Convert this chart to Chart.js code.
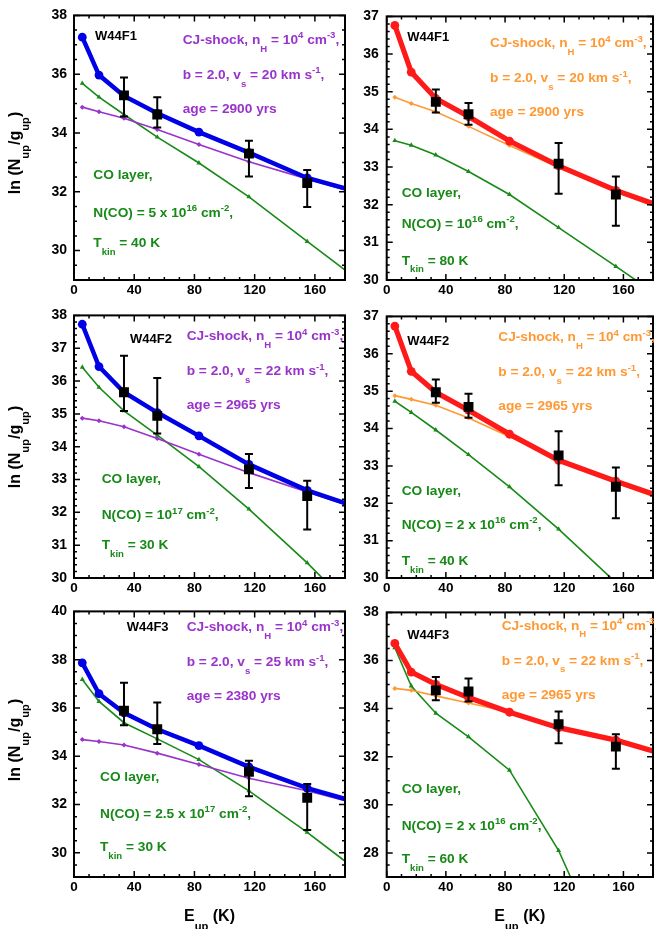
<!DOCTYPE html>
<html>
<head>
<meta charset="utf-8">
<title>W44 CO excitation diagrams</title>
<script src="https://cdn.jsdelivr.net/npm/chart.js@4.4.0/dist/chart.umd.min.js"></script>
<style>
  html, body { margin: 0; padding: 0; background: #fff; overflow: hidden; width: 656px; height: 929px; }
  canvas { position: absolute; }
</style>
</head>
<body>
<canvas id="p1"></canvas>
<canvas id="p2"></canvas>
<canvas id="p3"></canvas>
<canvas id="p4"></canvas>
<canvas id="p5"></canvas>
<canvas id="p6"></canvas>
<script>
// upper level energies of the CO lines (K)
const E = [5.5, 16.6, 33.2, 55.3, 83.0, 116.2, 154.9, 199.1];
const Eobs = [33.2, 55.3, 116.2, 154.9];
const xTicks = [0, 40, 80, 120, 160];

// W44F1, left: shock + layer (blue), CJ-shock (purple), CO layer (green)
const f1aTotal = [37.26, 35.97, 35.26, 34.67, 34.03, 33.33, 32.47, 31.85];
const f1aShock = [34.88, 34.72, 34.50, 34.12, 33.61, 33.02, 32.44, 31.80];
const f1aLayer = [35.69, 35.22, 34.63, 33.86, 32.98, 31.83, 30.31, 28.60];
const f1aObs   = [35.28, 34.63, 33.30, 32.30];
const f1aObsHi = [35.89, 35.22, 33.74, 32.74];
const f1aObsLo = [34.56, 34.19, 32.52, 31.48];
const f1aTicks = [30, 32, 34, 36, 38];

// W44F1, right
const f1bTotal = [36.76, 35.52, 34.82, 34.34, 33.69, 33.03, 32.38, 31.76];
const f1bShock = [34.85, 34.69, 34.47, 34.08, 33.57, 32.99, 32.34, 31.70];
const f1bLayer = [33.70, 33.58, 33.32, 32.88, 32.27, 31.39, 30.36, 29.17];
const f1bObs   = [34.73, 34.40, 33.09, 32.27];
const f1bObsHi = [35.06, 34.70, 33.64, 32.75];
const f1bObsLo = [34.45, 34.12, 32.29, 31.44];
const f1bTicks = [30, 31, 32, 33, 34, 35, 36, 37];

// W44F2, left
const f2aTotal = [37.73, 36.44, 35.66, 35.04, 34.33, 33.46, 32.67, 31.99];
const f2aShock = [34.87, 34.79, 34.61, 34.25, 33.77, 33.21, 32.62, 31.95];
const f2aLayer = [36.42, 35.81, 35.09, 34.35, 33.39, 32.10, 30.46, 28.43];
const f2aObs   = [35.66, 34.94, 33.31, 32.50];
const f2aObsHi = [36.77, 36.09, 33.78, 32.96];
const f2aObsLo = [35.09, 34.40, 32.74, 31.48];
const f2aTicks = [30, 31, 32, 33, 34, 35, 36, 37, 38];

// W44F2, right
const f2bTotal = [36.74, 35.53, 34.97, 34.49, 33.85, 33.15, 32.59, 31.99];
const f2bShock = [34.88, 34.78, 34.62, 34.28, 33.78, 33.18, 32.55, 31.90];
const f2bLayer = [34.73, 34.43, 33.96, 33.30, 32.44, 31.31, 29.88, 28.20];
const f2bObs   = [34.97, 34.58, 33.28, 32.44];
const f2bObsHi = [35.31, 34.93, 33.93, 32.96];
const f2bObsLo = [34.69, 34.29, 32.48, 31.60];
const f2bTicks = [30, 31, 32, 33, 34, 35, 36, 37];

// W44F3, left
const f3aTotal = [37.87, 36.59, 35.80, 35.12, 34.44, 33.56, 32.68, 31.90];
const f3aShock = [34.69, 34.61, 34.47, 34.13, 33.66, 33.09, 32.57, 31.85];
const f3aLayer = [37.18, 36.27, 35.39, 34.72, 33.86, 32.57, 30.85, 28.75];
const f3aObs   = [35.89, 35.12, 33.36, 32.28];
const f3aObsHi = [37.05, 36.23, 33.81, 32.85];
const f3aObsLo = [35.28, 34.51, 32.34, 30.95];
const f3aTicks = [30, 32, 34, 36, 38, 40];

// W44F3, right
const f3bTotal = [36.71, 35.52, 35.01, 34.46, 33.85, 33.21, 32.69, 31.90];
const f3bShock = [34.84, 34.76, 34.53, 34.23, 33.85, 33.18, 32.64, 31.85];
const f3bLayer = [36.53, 34.94, 33.81, 32.83, 31.44, 28.10, 22.80, 17.00];
const f3bObs   = [34.76, 34.71, 33.35, 32.42];
const f3bObsHi = [35.31, 35.25, 33.88, 32.93];
const f3bObsLo = [34.35, 34.30, 32.56, 31.50];
const f3bTicks = [28, 30, 32, 34, 36, 38];

const FONT = '"Liberation Sans", Arial, Helvetica, sans-serif';
const BLACK = '#000000', BLUE = '#0000e6', RED = '#ff1a1a';
const PURPLE = '#9933cc', ORANGE = '#ff9933', GREEN = '#178a17';

Chart.defaults.font.family = FONT;
Chart.defaults.font.weight = 'bold';
Chart.defaults.font.size = 13;
Chart.defaults.color = '#000';

const cols = {
  L: { left: 0, width: 352, yW: 74, padR: 6.3 },
  R: { left: 352, width: 308, yW: 34.7, padR: 0.6 }
};
const rows = {
  1: { top: 0, height: 300, padT: 12, xH: 20, yTitle: 153 },
  2: { top: 300, height: 300, padT: 8, xH: 22, yTitle: 447 },
  3: { top: 596, height: 333, padT: 11, xH: 52, yTitle: 740 }
};

function pts(xs, ys) { return xs.map((v, i) => ({ x: v, y: ys[i] })); }

// text with sub/superscripts; parts are strings or [text, 'sub'|'sup']
function rich(ctx, x, y, parts, size, measureOnly) {
  let cx = x;
  parts.forEach(p => {
    const txt = Array.isArray(p) ? p[0] : p;
    const kind = Array.isArray(p) ? p[1] : '';
    let fs = size, dy = 0;
    if (kind === 'sub') { fs = size * 0.7; dy = size * 0.62; }
    if (kind === 'sup') { fs = size * 0.7; dy = -size * 0.35; }
    ctx.font = 'bold ' + fs + 'px ' + FONT;
    if (!measureOnly) ctx.fillText(txt, cx, y + dy);
    cx += ctx.measureText(txt).width;
  });
  return cx - x;
}

function framePlugin(cfg) {
  return {
    id: 'frame' + cfg.id,
    afterDatasetsDraw(chart) {
      const { ctx, scales: { x, y } } = chart;
      ctx.save();
      ctx.strokeStyle = '#000';
      ctx.lineWidth = 2;
      Eobs.forEach((ex, i) => {
        const px = x.getPixelForValue(ex);
        const yh = y.getPixelForValue(cfg.hi[i]), yl = y.getPixelForValue(cfg.lo[i]);
        ctx.beginPath();
        ctx.moveTo(px, yh); ctx.lineTo(px, yl);
        ctx.moveTo(px - 4, yh); ctx.lineTo(px + 4, yh);
        ctx.moveTo(px - 4, yl); ctx.lineTo(px + 4, yl);
        ctx.stroke();
      });
      ctx.restore();
    },
    afterDraw(chart) {
      const { ctx, chartArea: a, scales: { x, y } } = chart;
      ctx.save();
      // frame
      ctx.strokeStyle = '#000';
      ctx.lineWidth = 2;
      ctx.strokeRect(a.left, a.top, a.right - a.left, a.bottom - a.top);
      // inward ticks on all four sides
      ctx.lineWidth = 1.5;
      ctx.beginPath();
      for (let v = 0; v <= 180.001; v += 10) {
        const len = xTicks.includes(v) ? 6 : 3;
        const px = x.getPixelForValue(v);
        ctx.moveTo(px, a.bottom); ctx.lineTo(px, a.bottom - len);
        ctx.moveTo(px, a.top); ctx.lineTo(px, a.top + len);
      }
      const n = Math.round((cfg.yMax - cfg.yMin) / cfg.minor);
      for (let k = 0; k <= n; k++) {
        const v = cfg.yMin + k * cfg.minor;
        const len = cfg.yTicks.some(t => Math.abs(t - v) < 1e-6) ? 6 : 3;
        const py = y.getPixelForValue(v);
        ctx.moveTo(a.left, py); ctx.lineTo(a.left + len, py);
        ctx.moveTo(a.right, py); ctx.lineTo(a.right - len, py);
      }
      ctx.stroke();
      // annotations
      ctx.textBaseline = 'middle';
      ctx.textAlign = 'left';
      cfg.notes.forEach(nt => {
        ctx.fillStyle = nt.color;
        rich(ctx, a.left + nt.dx, a.top + nt.dy, nt.parts, nt.color === BLACK ? 13 : 13.7);
      });
      ctx.fillStyle = '#000';
      if (cfg.col === 'L') {
        const parts = ['ln (N', ['up', 'sub'], '/g', ['up', 'sub'], ')'];
        const w = rich(ctx, 0, 0, parts, 16, true);
        ctx.save();
        ctx.translate(16, rows[cfg.row].yTitle - rows[cfg.row].top);
        ctx.rotate(-Math.PI / 2);
        rich(ctx, -w / 2, 0, parts, 16);
        ctx.restore();
      }
      if (cfg.row === 3) {
        const parts = ['E', ['up', 'sub'], ' (K)'];
        const w = rich(ctx, 0, 0, parts, 16, true);
        rich(ctx, (a.left + a.right) / 2 - w / 2, a.bottom + 40, parts, 16);
      }
      ctx.restore();
    }
  };
}

function makePanel(cfg) {
  const c = cols[cfg.col], r = rows[cfg.row];
  const el = document.getElementById(cfg.id);
  el.width = c.width; el.height = r.height;
  el.style.left = c.left + 'px'; el.style.top = r.top + 'px';
  const thick = cfg.col === 'L' ? BLUE : RED;
  const thin = cfg.col === 'L' ? PURPLE : ORANGE;
  new Chart(el, {
    type: 'line',
    data: {
      datasets: [
        { data: pts(Eobs, cfg.obs), showLine: false, pointStyle: 'rect', pointRadius: 7,
          pointBackgroundColor: BLACK, pointBorderWidth: 0 },
        { data: pts(E, cfg.total), borderColor: thick, borderWidth: cfg.col === 'L' ? 4.5 : 5.2,
          pointRadius: 4.4, pointBackgroundColor: thick, pointBorderWidth: 0, clip: 0 },
        { data: pts(E, cfg.shock), borderColor: thin, borderWidth: 1.6, pointStyle: 'rectRot',
          pointRadius: 2.5, pointBackgroundColor: thin, pointBorderWidth: 0, clip: 0 },
        { data: pts(E, cfg.layer), borderColor: GREEN, borderWidth: 1.6, pointStyle: 'triangle',
          pointRadius: 2.9, pointBackgroundColor: GREEN, pointBorderWidth: 0, clip: 0 }
      ]
    },
    options: {
      responsive: false,
      animation: false,
      events: [],
      layout: { padding: { top: r.padT, right: c.padR, left: 0, bottom: 0 } },
      plugins: { legend: { display: false }, tooltip: { enabled: false } },
      elements: { line: { tension: 0 } },
      scales: {
        x: {
          type: 'linear', min: 0, max: 180,
          grid: { display: false, drawTicks: false }, border: { display: false },
          ticks: { padding: 2, font: { size: 13.5, weight: 'bold' }, color: '#000' },
          afterBuildTicks: s => { s.ticks = xTicks.map(v => ({ value: v })); },
          afterFit: s => { s.height = r.xH; }
        },
        y: {
          type: 'linear', min: cfg.yMin, max: cfg.yMax,
          grid: { display: false, drawTicks: false }, border: { display: false },
          ticks: { padding: cfg.col === 'L' ? 7 : 8, font: { size: 14, weight: 'bold' }, color: '#000' },
          afterBuildTicks: s => { s.ticks = cfg.yTicks.map(v => ({ value: v })); },
          afterFit: s => { s.width = c.yW; }
        }
      }
    },
    plugins: [framePlugin(cfg)]
  });
}

const cj = (v, age, col, x0, y0) => [
  { dx: x0, dy: y0, color: col, parts: ['CJ-shock, n', ['H', 'sub'], ' = 10', ['4', 'sup'], ' cm', ['-3', 'sup'], ','] },
  { dx: x0, dy: y0 + 35, color: col, parts: ['b = 2.0, v', ['s', 'sub'], ' = ' + v + ' km s', ['-1', 'sup'], ','] },
  { dx: x0, dy: y0 + 69, color: col, parts: ['age = ' + age + ' yrs'] }
];
const co = (nco, t, x0, ys) => [
  { dx: x0, dy: ys[0], color: GREEN, parts: ['CO layer,'] },
  { dx: x0, dy: ys[1], color: GREEN, parts: nco },
  { dx: x0, dy: ys[2], color: GREEN, parts: ['T', ['kin', 'sub'], ' = ' + t + ' K'] }
];

makePanel({ id: 'p1', col: 'L', row: 1, yMin: 29, yMax: 38, yTicks: f1aTicks, minor: 0.5,
  total: f1aTotal, shock: f1aShock, layer: f1aLayer, obs: f1aObs, hi: f1aObsHi, lo: f1aObsLo,
  notes: [{ dx: 21, dy: 21.5, color: BLACK, parts: ['W44F1'] }]
    .concat(cj(20, 2900, PURPLE, 108.7, 25))
    .concat(co(['N(CO) = 5 x 10', ['16', 'sup'], ' cm', ['-2', 'sup'], ','], 40, 19.3, [159.7, 198, 228])) });

makePanel({ id: 'p2', col: 'R', row: 1, yMin: 30, yMax: 37, yTicks: f1bTicks, minor: 0.2,
  total: f1bTotal, shock: f1bShock, layer: f1bLayer, obs: f1bObs, hi: f1bObsHi, lo: f1bObsLo,
  notes: [{ dx: 20.6, dy: 21.3, color: BLACK, parts: ['W44F1'] }]
    .concat(cj(20, 2900, ORANGE, 103.3, 27.3))
    .concat(co(['N(CO) = 10', ['16', 'sup'], ' cm', ['-2', 'sup'], ','], 80, 15, [177.3, 208, 244.7])) });

makePanel({ id: 'p3', col: 'L', row: 2, yMin: 30, yMax: 38, yTicks: f2aTicks, minor: 0.2,
  total: f2aTotal, shock: f2aShock, layer: f2aLayer, obs: f2aObs, hi: f2aObsHi, lo: f2aObsLo,
  notes: [{ dx: 56, dy: 23.7, color: BLACK, parts: ['W44F2'] }]
    .concat(cj(22, 2965, PURPLE, 112.7, 21.3))
    .concat(co(['N(CO) = 10', ['17', 'sup'], ' cm', ['-2', 'sup'], ','], 30, 27.7, [163.7, 200.3, 230.3])) });

makePanel({ id: 'p4', col: 'R', row: 2, yMin: 30, yMax: 37, yTicks: f2bTicks, minor: 0.2,
  total: f2bTotal, shock: f2bShock, layer: f2bLayer, obs: f2bObs, hi: f2bObsHi, lo: f2bObsLo,
  notes: [{ dx: 20.6, dy: 24.7, color: BLACK, parts: ['W44F2'] }]
    .concat(cj(22, 2965, ORANGE, 111.6, 21.3))
    .concat(co(['N(CO) = 2 x 10', ['16', 'sup'], ' cm', ['-2', 'sup'], ','], 40, 15, [174.7, 208.7, 245.3])) });

makePanel({ id: 'p5', col: 'L', row: 3, yMin: 29, yMax: 40, yTicks: f3aTicks, minor: 0.5,
  total: f3aTotal, shock: f3aShock, layer: f3aLayer, obs: f3aObs, hi: f3aObsHi, lo: f3aObsLo,
  notes: [{ dx: 52.7, dy: 16.3, color: BLACK, parts: ['W44F3'] }]
    .concat(cj(25, 2380, PURPLE, 112.7, 16.3))
    .concat(co(['N(CO) = 2.5 x 10', ['17', 'sup'], ' cm', ['-2', 'sup'], ','], 30, 26, [166.3, 203, 236.3])) });

makePanel({ id: 'p6', col: 'R', row: 3, yMin: 27, yMax: 38, yTicks: f3bTicks, minor: 0.5,
  total: f3bTotal, shock: f3bShock, layer: f3bLayer, obs: f3bObs, hi: f3bObsHi, lo: f3bObsLo,
  notes: [{ dx: 20.6, dy: 23, color: BLACK, parts: ['W44F3'] }]
    .concat(cj(22, 2965, ORANGE, 115, 13.7))
    .concat(co(['N(CO) = 2 x 10', ['16', 'sup'], ' cm', ['-2', 'sup'], ','], 60, 15, [177, 213.7, 247])) });
</script>
</body>
</html>
